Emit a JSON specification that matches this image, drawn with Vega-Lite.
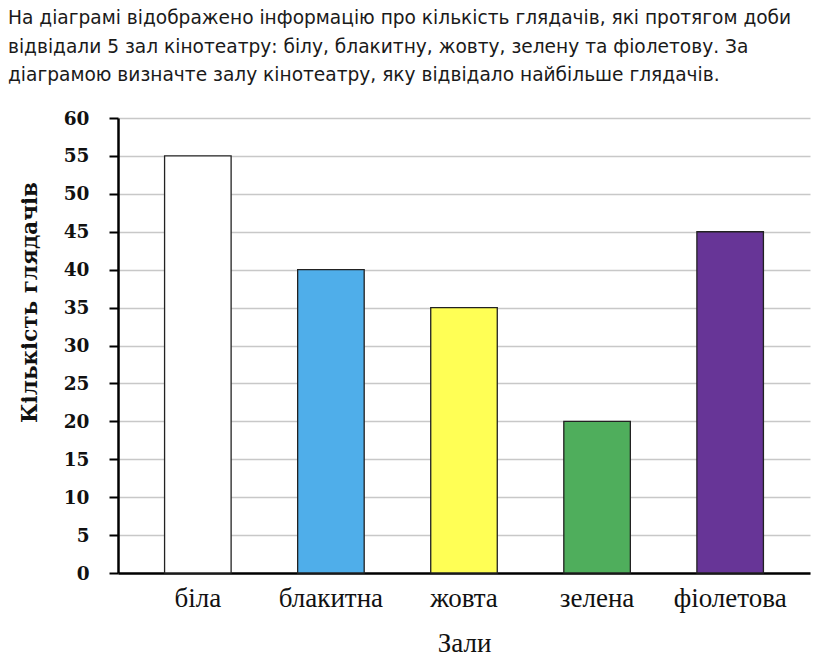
{
  "$schema": "https://vega.github.io/schema/vega-lite/v6.json",
  "autosize": "none",
  "width": 692,
  "height": 455,
  "padding": {"left": 118, "top": 118, "right": 7, "bottom": 92},
  "background": "white",
  "title": {
    "text": [
      "На діаграмі відображено інформацію про кількість глядачів, які протягом доби",
      "відвідали 5 зал кінотеатру: білу, блакитну, жовту, зелену та фіолетову. За",
      "діаграмою визначте залу кінотеатру, яку відвідало найбільше глядачів."
    ],
    "anchor": "start",
    "frame": "group",
    "dx": -110,
    "font": "DejaVu Sans",
    "fontSize": 18.6,
    "fontWeight": "normal",
    "lineHeight": 28.5,
    "offset": 24,
    "color": "#1a1a1a"
  },
  "data": {
    "values": [
      {"zal": "біла", "count": 55},
      {"zal": "блакитна", "count": 40},
      {"zal": "жовта", "count": 35},
      {"zal": "зелена", "count": 20},
      {"zal": "фіолетова", "count": 45}
    ]
  },
  "mark": {"type": "bar", "stroke": "#222222", "strokeWidth": 1.3},
  "encoding": {
    "x": {
      "field": "zal",
      "type": "nominal",
      "sort": null,
      "scale": {"paddingInner": 0.5, "paddingOuter": 0.35},
      "axis": {
        "title": "Зали",
        "labelAngle": 0,
        "ticks": false,
        "domainColor": "#000000",
        "domainWidth": 2.5,
        "labelFont": "Liberation Serif",
        "labelFontWeight": "normal",
        "labelFontSize": 27,
        "labelColor": "#111111",
        "labelPadding": 12,
        "titleFont": "Liberation Serif",
        "titleFontSize": 27,
        "titleFontWeight": "normal",
        "titleColor": "#111111",
        "titlePadding": 19,
        "grid": false
      }
    },
    "y": {
      "field": "count",
      "type": "quantitative",
      "scale": {"domain": [0, 60], "nice": false},
      "axis": {
        "title": "Кількість глядачів",
        "values": [0, 5, 10, 15, 20, 25, 30, 35, 40, 45, 50, 55, 60],
        "grid": true,
        "gridColor": "#c8c8c8",
        "gridWidth": 1.5,
        "domainColor": "#000000",
        "domainWidth": 2.5,
        "tickColor": "#000000",
        "tickWidth": 2,
        "tickSize": 9,
        "labelFont": "DejaVu Serif",
        "labelFontWeight": "bold",
        "labelFontSize": 18.5,
        "labelColor": "#111111",
        "labelPadding": 20,
        "titleFont": "DejaVu Serif",
        "titleFontWeight": "bold",
        "titleFontSize": 21.5,
        "titleColor": "#111111",
        "titleAngle": -90,
        "titleX": -88,
        "titleY": 184,
        "titleAlign": "center",
        "titleBaseline": "middle"
      }
    },
    "color": {
      "field": "zal",
      "type": "nominal",
      "scale": {
        "domain": ["біла", "блакитна", "жовта", "зелена", "фіолетова"],
        "range": ["#ffffff", "#4faeea", "#ffff55", "#4fae5c", "#673597"]
      },
      "legend": null
    }
  },
  "config": {
    "view": {"stroke": null}
  }
}
